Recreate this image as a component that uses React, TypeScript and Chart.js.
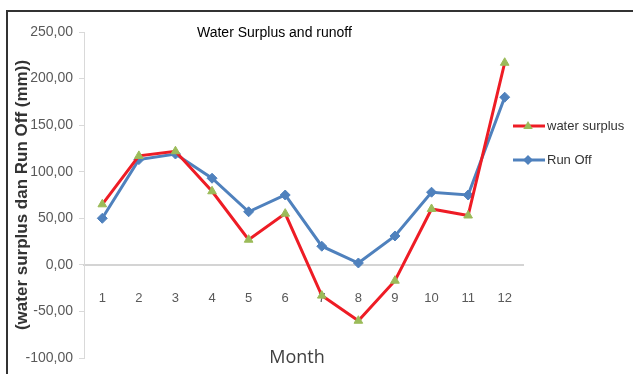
import React, { useEffect, useRef } from "react";
import { Chart, registerables } from "chart.js";

Chart.register(...registerables);

const months = ["1", "2", "3", "4", "5", "6", "7", "8", "9", "10", "11", "12"];
const waterSurplus = [65, 117, 122, 79, 27, 55, -33, -60, -17, 60, 53, 217];
const runOff = [50, 113, 119, 93, 57, 75, 20, 2, 31, 78, 75, 180];
const yTickValues = [-100, -50, 0, 50, 100, 150, 200, 250];
const seriesNames = ["water surplus", "Run Off"];
const chartTitle = "Water Surplus and runoff";
const yTitle = "(water surplus dan Run Off (mm))";
const xTitle = "Month";

const RED = "#ee1c25";
const GREEN = "#9bbb59";
const BLUE = "#4f81bd";

function drawTriangle(ctx: CanvasRenderingContext2D, x: number, y: number, r: number, color: string) {
  ctx.beginPath();
  ctx.moveTo(x, y - r);
  ctx.lineTo(x + r * 0.95, y + r * 0.6);
  ctx.lineTo(x - r * 0.95, y + r * 0.6);
  ctx.closePath();
  ctx.fillStyle = color;
  ctx.fill();
}

function drawDiamond(ctx: CanvasRenderingContext2D, x: number, y: number, r: number, color: string) {
  ctx.beginPath();
  ctx.moveTo(x, y - r);
  ctx.lineTo(x + r, y);
  ctx.lineTo(x, y + r);
  ctx.lineTo(x - r, y);
  ctx.closePath();
  ctx.fillStyle = color;
  ctx.fill();
}

const overlayPlugin = {
  id: "overlayText",
  afterDraw(chart: any) {
    const { ctx, chartArea } = chart;
    ctx.save();
    // chart title (inside plot area)
    ctx.fillStyle = "#000";
    ctx.font = "14px 'Liberation Sans', Arial, sans-serif";
    ctx.textAlign = "left";
    ctx.textBaseline = "middle";
    ctx.fillText(chartTitle, chartArea.left + 113, chartArea.top + 1);

    // x title
    ctx.fillStyle = "#404040";
    ctx.font = "18px 'Open Sans', sans-serif";
    ctx.textAlign = "center";
    ctx.fillText(xTitle, 297, chartArea.bottom);

    // legend
    const lx = chartArea.right - 10;
    const items = [
      { name: seriesNames[0], y: 126, line: RED, marker: "tri" },
      { name: seriesNames[1], y: 160, line: BLUE, marker: "dia" },
    ];
    items.forEach((it) => {
      ctx.strokeStyle = it.line;
      ctx.lineWidth = 3;
      ctx.beginPath();
      ctx.moveTo(lx, it.y);
      ctx.lineTo(lx + 32, it.y);
      ctx.stroke();
      if (it.marker === "tri") drawTriangle(ctx, lx + 15, it.y, 5, GREEN);
      else drawDiamond(ctx, lx + 15, it.y, 5, BLUE);
      ctx.fillStyle = "#333";
      ctx.font = "13px 'Liberation Sans', Arial, sans-serif";
      ctx.textAlign = "left";
      ctx.fillText(it.name, lx + 34, it.y);
    });
    ctx.restore();
  },
};

export default function App() {
  const canvasRef = useRef<HTMLCanvasElement | null>(null);

  useEffect(() => {
    document.body.style.margin = "0";
    const canvas = canvasRef.current;
    if (!canvas) return;
    const chart = new Chart(canvas, {
      type: "line",
      data: {
        labels: months,
        datasets: [
          {
            label: seriesNames[0],
            data: waterSurplus,
            borderColor: RED,
            borderWidth: 3,
            pointStyle: "triangle",
            pointRadius: 5,
            pointBackgroundColor: GREEN,
            pointBorderColor: GREEN,
            pointBorderWidth: 1,
            tension: 0,
          },
          {
            label: seriesNames[1],
            data: runOff,
            borderColor: BLUE,
            borderWidth: 3,
            pointStyle: "rectRot",
            pointRadius: 5,
            pointBackgroundColor: BLUE,
            pointBorderColor: BLUE,
            pointBorderWidth: 1,
            tension: 0,
          },
        ],
      },
      options: {
        responsive: false,
        animation: false,
        layout: { padding: { top: 32, right: 110, bottom: 16, left: 0 } },
        plugins: {
          legend: { display: false },
          title: { display: false },
          tooltip: { enabled: false },
        },
        scales: {
          x: {
            type: "category",
            position: { y: 0 } as any,
            offset: true,
            grid: { display: false, drawTicks: false },
            border: { display: true, color: "#d4d4d4", width: 2 },
            ticks: {
              color: "#595959",
              font: { size: 13, family: "'Liberation Sans', Arial, sans-serif" },
              padding: 26,
              maxRotation: 0,
              autoSkip: false,
            },
          },
          y: {
            min: -100,
            max: 250,
            afterBuildTicks: (scale: any) => {
              scale.ticks = yTickValues.map((v) => ({ value: v }));
            },
            afterFit: (scale: any) => {
              scale.width = 84;
            },
            grid: { drawOnChartArea: false, drawTicks: true, tickLength: 5, color: "#d9d9d9" },
            border: { display: true, color: "#d9d9d9", width: 1 },
            ticks: {
              color: "#595959",
              font: { size: 14, family: "'Liberation Sans', Arial, sans-serif" },
              padding: 6,
              callback: (v: any) => Number(v).toFixed(2).replace(".", ","),
            },
            title: {
              display: true,
              text: yTitle,
              color: "#333",
              font: { size: 17, weight: "bold", family: "'Liberation Sans', Arial, sans-serif" },
              padding: { top: 12, bottom: 0 },
            },
          },
        },
      },
      plugins: [overlayPlugin],
    });
    return () => chart.destroy();
  }, []);

  return (
    <div style={{ position: "fixed", left: 0, top: 0, width: 633, height: 374, overflow: "hidden", background: "#fff" }}>
      <canvas ref={canvasRef} width={633} height={374} style={{ display: "block" }} />
      <div
        style={{
          position: "absolute",
          left: 6,
          top: 10,
          width: 660,
          height: 400,
          border: "2px solid #333",
          pointerEvents: "none",
        }}
      />
    </div>
  );
}
